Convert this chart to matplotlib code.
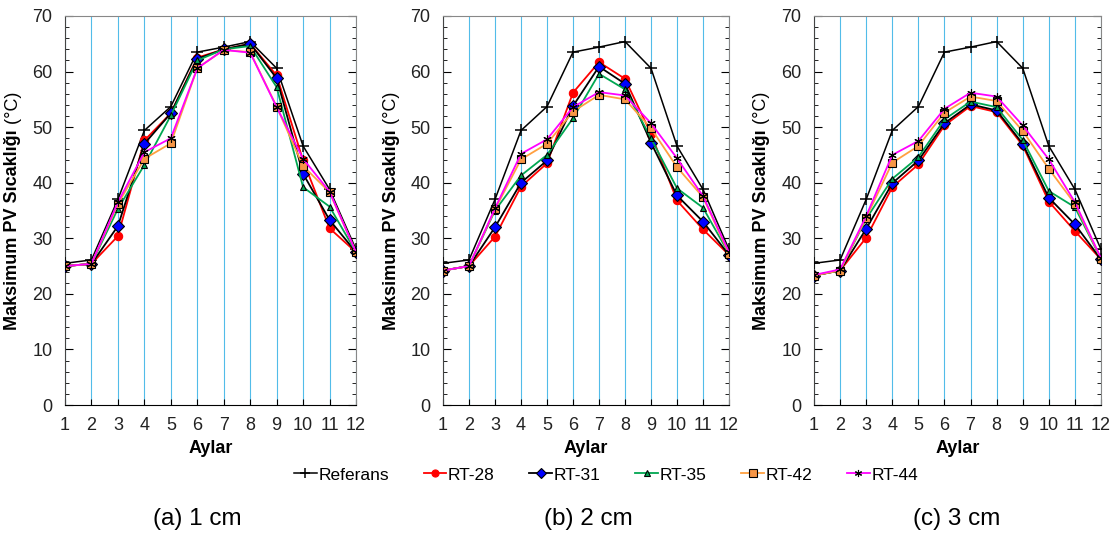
import numpy as np
import matplotlib.pyplot as plt
from matplotlib.ticker import MultipleLocator

plt.rcParams['font.family'] = ['Liberation Sans', 'DejaVu Sans']

aylar = np.arange(1, 13)

referans = [25.5, 26.1, 37.0, 49.4, 53.7, 63.5, 64.4, 65.4, 60.6, 46.6, 38.8, 28.0]

# 1 cm
rt28_1 = [25.0, 25.4, 30.4, 47.6, 52.5, 62.5, 64.0, 65.0, 59.3, 44.0, 31.8, 27.5]
rt31_1 = [25.0, 25.4, 32.2, 47.0, 52.5, 62.3, 64.0, 65.0, 58.8, 41.6, 33.3, 27.5]
rt35_1 = [25.0, 25.4, 35.3, 43.2, 52.1, 62.0, 64.0, 64.6, 57.2, 39.2, 35.7, 27.5]
rt42_1 = [25.0, 25.4, 36.2, 44.3, 47.1, 60.6, 63.9, 63.5, 53.7, 43.0, 38.3, 27.5]
rt44_1 = [25.0, 25.4, 36.5, 45.5, 48.0, 60.6, 63.9, 63.4, 53.6, 44.3, 38.4, 27.5]

# 2 cm
rt28_2 = [24.2, 25.0, 30.3, 39.3, 43.5, 56.2, 61.7, 58.7, 48.8, 36.8, 31.6, 27.0]
rt31_2 = [24.2, 25.0, 32.0, 40.0, 44.0, 53.8, 60.9, 57.8, 47.2, 37.7, 33.0, 27.0]
rt35_2 = [24.2, 25.0, 35.0, 41.3, 45.0, 51.6, 59.6, 56.8, 48.0, 39.0, 35.5, 27.2]
rt42_2 = [24.2, 25.0, 35.2, 44.2, 47.0, 52.8, 55.8, 55.0, 49.8, 42.8, 37.4, 27.2]
rt44_2 = [24.2, 25.0, 35.4, 45.2, 47.8, 53.6, 56.3, 55.7, 50.7, 44.4, 37.6, 27.5]

# 3 cm
rt28_3 = [23.3, 24.2, 30.1, 39.2, 43.3, 50.3, 53.8, 52.7, 46.7, 36.6, 31.3, 26.2]
rt31_3 = [23.3, 24.2, 31.7, 39.9, 44.0, 50.7, 54.1, 53.0, 47.0, 37.3, 32.5, 26.2]
rt35_3 = [23.3, 24.2, 33.5, 40.7, 44.6, 51.4, 54.6, 53.6, 47.7, 38.5, 35.6, 26.3]
rt42_3 = [23.3, 24.2, 33.7, 43.6, 46.6, 52.6, 55.5, 54.7, 49.3, 42.5, 36.2, 26.3]
rt44_3 = [23.4, 24.4, 34.0, 45.0, 47.5, 53.3, 56.2, 55.5, 50.3, 44.2, 36.5, 26.4]

paneller = [
    ("(a) 1 cm", [rt28_1, rt31_1, rt35_1, rt42_1, rt44_1]),
    ("(b) 2 cm", [rt28_2, rt31_2, rt35_2, rt42_2, rt44_2]),
    ("(c) 3 cm", [rt28_3, rt31_3, rt35_3, rt42_3, rt44_3]),
]

isimler = ["RT-28", "RT-31", "RT-35", "RT-42", "RT-44"]
# çizgi rengi, marker, dolgu, kenar
stiller = [
    ("#ff0000", "o", "#ff0000", "#ff0000"),
    ("#000000", "D", "#0000ff", "#000000"),
    ("#00a651", "^", "#00a651", "#000000"),
    ("#ffa040", "s", "#f79646", "#000000"),
    ("#ff00ff", (6, 2, 0), "#000000", "#000000"),
]

fig = plt.figure(figsize=(11.12, 5.34), dpi=100)
W, H = 1112, 534
lefts = [65, 443, 814]
rights = [356, 729, 1101]
top, bottom = 16, 405
baslik_x = [197, 588, 957]

handles = []
eksenler = []
for i, (baslik, seriler) in enumerate(paneller):
    ax = fig.add_axes([lefts[i] / W, 1 - bottom / H,
                       (rights[i] - lefts[i]) / W, (bottom - top) / H])
    eksenler.append(ax)
    for m in aylar:
        ax.axvline(m, color="#52bce9", lw=0.8, zorder=0)
    h0, = ax.plot(aylar, referans, color="black", lw=1.1, marker="+",
                  ms=9, mew=1.1, label="Referans", zorder=3)
    hs = [h0]
    for ad, y, (lc, mk, fc, ec) in zip(isimler, seriler, stiller):
        ms = 6 if mk != "^" else 5
        h, = ax.plot(aylar, y, color=lc, lw=1.3, marker=mk, ms=ms,
                     mfc=fc, mec=ec, mew=0.8, label=ad, zorder=3)
        hs.append(h)
    handles = hs
    ax.set_xlim(1, 12)
    ax.set_ylim(0, 70)
    ax.set_xticks(aylar)
    ax.yaxis.set_major_locator(MultipleLocator(10))
    ax.yaxis.set_minor_locator(MultipleLocator(2))
    ax.tick_params(axis="y", which="both", direction="in", left=True, right=True,
                   labelsize=13, labelcolor="#222222", pad=9)
    ax.tick_params(axis="y", which="major", length=6)
    ax.tick_params(axis="y", which="minor", length=3)
    ax.tick_params(axis="x", direction="in", length=4, labelsize=13,
                   labelcolor="#222222", pad=9)
    for s in ["top", "right"]:
        ax.spines[s].set_color("#888888")
    ax.spines["left"].set_color("#444444")
    ax.spines["bottom"].set_color("black")
    ax.set_xlabel("Aylar", fontsize=13, fontweight="bold", labelpad=4)
    fig.text(baslik_x[i] / W, 1 - 519 / H, baslik, ha="center", va="center",
             fontsize=17.5)

# y ekseni etiketi: kalın kısım + normal "(°C)"
fig.canvas.draw()
r = fig.canvas.get_renderer()
for i, ax in enumerate(eksenler):
    x = (lefts[i] - 52) / W
    t1 = fig.text(x, 0, "Maksimum PV Sıcaklığı", rotation=90, fontsize=13,
                  fontweight="bold", ha="center", va="bottom")
    t2 = fig.text(x, 0, " (°C)", rotation=90, fontsize=13,
                  ha="center", va="bottom")
    h1 = t1.get_window_extent(r).height
    h2 = t2.get_window_extent(r).height
    merkez = (bottom + top) / 2
    y0 = H - merkez - (h1 + h2) / 2
    t1.set_y(y0 / H)
    t2.set_y((y0 + h1) / H)

fig.legend(handles=handles, loc="center", bbox_to_anchor=(0.545, 1 - 475 / H),
           ncol=6, frameon=False, fontsize=12.5, handlelength=1.3,
           handletextpad=0.1, columnspacing=2.0, markerscale=0.85)

fig.savefig("out.png", dpi=100)
